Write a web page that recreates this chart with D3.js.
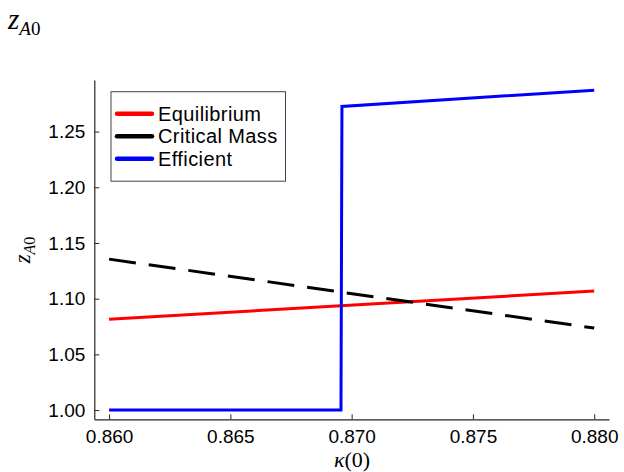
<!DOCTYPE html>
<html>
<head>
<meta charset="utf-8">
<script src="https://cdn.jsdelivr.net/npm/d3@7"></script>
<style>
  body { margin: 0; background: #fff; }
  svg { display: block; }
</style>
</head>
<body>
<script>
// values
const xTicks = [0.860, 0.865, 0.870, 0.875, 0.880]
const yTicks = [1.00, 1.05, 1.10, 1.15, 1.20, 1.25]

const equilibrium = [[0.860, 1.0815], [0.880, 1.1068]]
const criticalMass = [[0.860, 1.1355], [0.880, 1.0736]]
const efficient = [[0.860, 1.000], [0.86956, 1.000], [0.86960, 1.2725], [0.880, 1.2872]]

const seriesNames = ["Equilibrium", "Critical Mass", "Efficient"]
const seriesColors = ["#ff0000", "#000000", "#0000ff"]

const width = 624, height = 472

const x = d3.scaleLinear()
    .domain([0.85939, 0.88061])
    .range([94.3, 609])

const y = d3.scaleLinear()
    .domain([0.9917, 1.2963])
    .range([419.3, 80])

const line = d3.line()
    .x(d => x(d[0]))
    .y(d => y(d[1]))

const svg = d3.select("body")
    .append("svg")
    .attr("width", width)
    .attr("height", height)
    .style("font-family", "'Liberation Sans', Arial, sans-serif")

// axes: left and bottom only, inward ticks
const xAxis = svg.append("g")
    .attr("transform", "translate(0," + y.range()[0] + ")")
    .call(d3.axisBottom(x).tickValues(xTicks).tickFormat(d3.format(".3f"))
        .tickSizeInner(-5).tickSizeOuter(0).tickPadding(10))

const yAxis = svg.append("g")
    .attr("transform", "translate(" + x.range()[0] + ",0)")
    .call(d3.axisLeft(y).tickValues(yTicks).tickFormat(d3.format(".2f"))
        .tickSizeInner(-5).tickSizeOuter(0).tickPadding(9))

for (let ax of [xAxis, yAxis]) {
    ax.select(".domain").attr("stroke", "#262626").attr("stroke-width", 1.2)
    ax.selectAll(".tick line").attr("stroke", "#262626")
    ax.selectAll(".tick text")
        .attr("fill", "#000")
        .style("font-size", "19px")
        .style("font-family", "'Liberation Sans', Arial, sans-serif")
}

// series
svg.append("path")
    .datum(equilibrium)
    .attr("d", line)
    .style("stroke", seriesColors[0])
    .style("stroke-width", "3px")
    .style("fill", "none")

svg.append("path")
    .datum(criticalMass)
    .attr("d", line)
    .style("stroke", seriesColors[1])
    .style("stroke-width", "3px")
    .style("stroke-dasharray", "27,13")
    .style("fill", "none")

svg.append("path")
    .datum(efficient)
    .attr("d", line)
    .style("stroke", seriesColors[2])
    .style("stroke-width", "3px")
    .style("stroke-linejoin", "miter")
    .style("fill", "none")

// legend
const legend = svg.append("g")
legend.append("rect")
    .attr("x", 111).attr("y", 91.7)
    .attr("width", 174.5).attr("height", 89.5)
    .attr("fill", "#fff")
    .attr("stroke", "#444")
    .attr("stroke-width", 1)

seriesNames.forEach((name, i) => {
    const cy = 113.7 + i * 22.5
    legend.append("line")
        .attr("x1", 117).attr("x2", 152)
        .attr("y1", cy).attr("y2", cy)
        .attr("stroke", seriesColors[i])
        .attr("stroke-width", 4.5)
        .attr("stroke-linecap", "round")
    legend.append("text")
        .attr("x", 158).attr("y", cy)
        .attr("dy", "0.36em")
        .style("font-size", "20px")
        .style("letter-spacing", "0.4px")
        .text(name)
})

// labels (math style)
const mathFont = "'Liberation Serif', 'DejaVu Serif', serif"

const title = svg.append("text")
    .attr("x", 8).attr("y", 29)
    .style("font-family", mathFont)
    .style("font-style", "italic")
    .style("font-size", "29px")
title.append("tspan").text("z")
title.append("tspan")
    .attr("dy", 6)
    .style("font-size", "19px")
    .text("A")
title.append("tspan")
    .style("font-style", "normal")
    .style("font-size", "19px")
    .text("0")

const ylab = svg.append("text")
    .attr("transform", "translate(30,250) rotate(-90)")
    .attr("text-anchor", "middle")
    .style("font-family", mathFont)
    .style("font-style", "italic")
    .style("font-size", "23px")
ylab.append("tspan").text("z")
ylab.append("tspan")
    .attr("dy", 5)
    .style("font-size", "16px")
    .text("A")
ylab.append("tspan")
    .style("font-style", "normal")
    .style("font-size", "16px")
    .text("0")

const xlab = svg.append("text")
    .attr("x", 352).attr("y", 467)
    .attr("text-anchor", "middle")
    .style("font-family", mathFont)
    .style("font-size", "22px")
xlab.append("tspan").style("font-style", "italic").text("κ")
xlab.append("tspan").text("(0)")
</script>
</body>
</html>
